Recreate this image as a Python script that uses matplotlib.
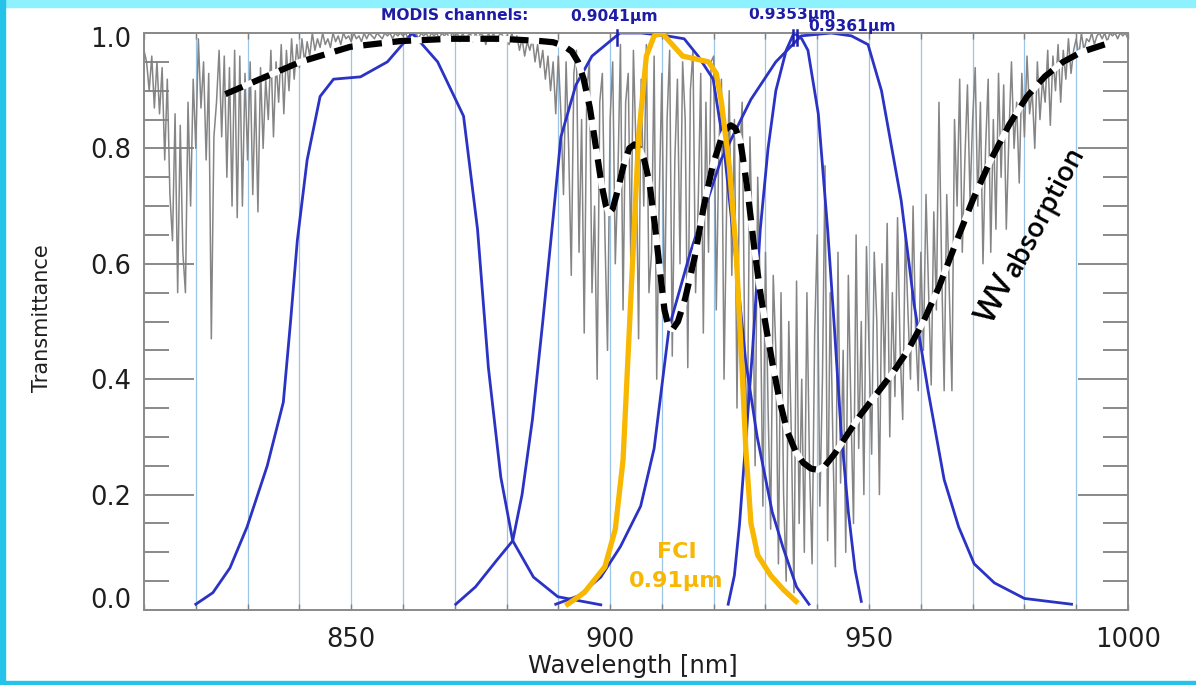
import numpy as np
import matplotlib
matplotlib.use("Agg")
import matplotlib.pyplot as plt
from matplotlib.ticker import MultipleLocator, FixedLocator
from matplotlib.patches import Rectangle

# ---------------- data ----------------
# gray high-resolution atmospheric transmittance, sampled every 0.5 nm from 810 nm
gray_start = 810.0
gray_step = 0.5
gray_T = [
    0.97, 0.95, 0.90, 0.96, 0.87, 0.95, 0.86, 0.94, 0.78, 0.92, 0.72, 0.64, 0.86, 0.55, 0.84, 0.62, 0.55, 0.88, 0.70, 0.92,
    0.80, 0.99, 0.87, 0.95, 0.78, 0.93, 0.47, 0.82, 0.88, 0.97, 0.82, 0.96, 0.75, 0.94, 0.70, 0.97, 0.68, 0.96, 0.70, 0.93,
    0.78, 0.95, 0.72, 0.90, 0.69, 0.94, 0.80, 0.92, 0.85, 0.97, 0.82, 0.95, 0.88, 0.98, 0.86, 0.97, 0.90, 0.99, 0.92, 0.98,
    0.94, 0.99, 0.95, 0.985, 0.96, 1.0, 0.97, 0.99, 0.975, 1.0, 0.98, 0.99, 0.975, 1.0, 0.985, 0.995, 0.98, 1.0, 0.99, 0.995,
    0.985, 1.0, 0.99, 0.995, 0.985, 1.0, 0.99, 1.0, 0.995, 0.99, 1.0, 0.995, 0.99, 1.0, 0.995, 1.0, 0.99, 1.0, 0.995, 1.0,
    0.995, 1.0, 0.99, 1.0, 0.995, 1.0, 0.99, 1.0, 0.995, 1.0, 0.99, 1.0, 0.995, 1.0, 0.99, 1.0, 0.995, 1.0, 0.99, 1.0,
    0.995, 1.0, 0.985, 1.0, 0.99, 0.995, 1.0, 0.985, 1.0, 0.99, 1.0, 0.995, 0.98, 1.0, 0.99, 1.0, 0.985, 0.995, 1.0, 0.99,
    0.995, 0.98, 1.0, 0.985, 0.995, 0.97, 0.99, 0.96, 0.985, 0.97, 0.99, 0.95, 0.98, 0.94, 0.97, 0.92, 0.96, 0.90, 0.95, 0.86,
    0.96, 0.86, 0.72, 0.95, 0.80, 0.58, 0.93, 0.97, 0.62, 0.85, 0.48, 0.90, 0.95, 0.55, 0.70, 0.40, 0.88, 0.93, 0.65, 0.45,
    0.85, 0.95, 0.60, 0.75, 0.98, 0.52, 0.88, 0.93, 0.60, 0.97, 0.80, 0.47, 0.92, 0.70, 0.98, 0.55, 0.62, 0.96, 0.40, 0.72,
    0.93, 0.50, 0.85, 0.97, 0.44, 0.78, 0.92, 0.60, 0.95, 0.85, 0.42, 0.90, 0.97, 0.55, 0.70, 0.93, 0.48, 0.88, 0.62, 0.95,
    0.96, 0.52, 0.80, 0.92, 0.40, 0.70, 0.90, 0.58, 0.85, 0.35, 0.78, 0.88, 0.45, 0.30, 0.82, 0.62, 0.25, 0.75, 0.55, 0.18,
    0.62, 0.35, 0.14, 0.58, 0.45, 0.08, 0.55, 0.20, 0.05, 0.50, 0.30, 0.03, 0.57, 0.15, 0.40, 0.10, 0.55, 0.25, 0.08, 0.48,
    0.65, 0.18, 0.40, 0.77, 0.12, 0.55, 0.30, 0.075, 0.62, 0.22, 0.45, 0.10, 0.58, 0.35, 0.15, 0.65, 0.28, 0.50, 0.20, 0.63,
    0.45, 0.27, 0.62, 0.50, 0.20, 0.60, 0.40, 0.67, 0.30, 0.55, 0.37, 0.68, 0.45, 0.33, 0.65, 0.52, 0.40, 0.70, 0.48, 0.38,
    0.62, 0.45, 0.72, 0.55, 0.39, 0.69, 0.52, 0.88, 0.60, 0.38, 0.72, 0.55, 0.38, 0.85, 0.70, 0.92, 0.62, 0.78, 0.91, 0.71,
    0.85, 0.94, 0.70, 0.88, 0.60, 0.80, 0.92, 0.62, 0.85, 0.66, 0.93, 0.75, 0.91, 0.66, 0.82, 0.95, 0.80, 0.88, 0.74, 0.93,
    0.82, 0.96, 0.86, 0.90, 0.80, 0.95, 0.85, 0.92, 0.88, 0.97, 0.84, 0.96, 0.90, 0.98, 0.88, 0.97, 0.92, 0.99, 0.93, 0.97,
    0.99, 0.96, 1.0, 0.97, 0.99, 0.985, 1.0, 0.98, 0.995, 1.0, 0.99, 1.0, 0.985, 1.0, 0.995, 1.0, 0.99, 1.0, 0.995, 1.0, 0.99,
]

# MODIS spectral response functions (blue)
modis_a_wl = [820, 823.3, 826.6, 829.9, 833.8, 836.9, 838.3, 839.6, 841.5, 844, 846.6, 851.8, 857, 861.8,
              866.7, 871.7, 874.4, 876.5, 878.9, 881.2, 885.2, 889.9, 898.2]
modis_a_T = [0.01, 0.03, 0.073, 0.144, 0.25, 0.36, 0.5, 0.64, 0.78, 0.89, 0.92, 0.924, 0.95, 1.0,
             0.95, 0.856, 0.66, 0.42, 0.23, 0.12, 0.057, 0.023, 0.009]

modis_b_wl = [870.2, 874, 878, 881.2, 883, 885, 887, 889, 890.5, 893.4, 896.5, 901.9, 906, 911, 914.3,
              917, 919.9, 922, 924.1, 926.2, 928.4, 931.3, 933.4, 936, 938.4]
modis_b_T = [0.01, 0.04, 0.085, 0.12, 0.2, 0.33, 0.5, 0.68, 0.82, 0.91, 0.96, 1.0, 1.0, 0.995, 0.99,
             0.96, 0.92, 0.8, 0.62, 0.43, 0.3, 0.17, 0.108, 0.04, 0.01]

modis_c_wl = [922.8, 924, 925, 926, 927.5, 929, 930.5, 932, 934, 935.5, 937, 938.2, 940.2, 942,
              943.3, 944.6, 946, 947.3, 948.5]
modis_c_T = [0.01, 0.06, 0.15, 0.27, 0.45, 0.66, 0.8, 0.9, 0.97, 1.0, 0.99, 0.97, 0.86, 0.66,
             0.49, 0.31, 0.17, 0.07, 0.015]

modis_d_wl = [889.5, 894, 898.2, 902, 905.9, 908.5, 911.4, 915.5, 921.4, 927.2, 932, 936.9, 942.7,
              946.6, 949.8, 952.4, 956.2, 958.7, 961.4, 964.5, 967.3, 970.3, 974.2, 980, 989.1]
modis_d_T = [0.01, 0.025, 0.057, 0.11, 0.18, 0.28, 0.49, 0.62, 0.78, 0.885, 0.95, 0.995, 1.0,
             0.995, 0.98, 0.9, 0.71, 0.53, 0.38, 0.226, 0.144, 0.08, 0.047, 0.02, 0.01]

# MTG FCI 0.91 um channel (orange)
fci_wl = [891.8, 895, 899, 901, 902.5, 904, 905.5, 907, 908.5, 910, 912, 914, 916.5, 919, 920.5,
          921.5, 923, 924.3, 925.3, 926.2, 927.2, 928.5, 931, 933.5, 935.9]
fci_T = [0.01, 0.03, 0.075, 0.14, 0.26, 0.54, 0.82, 0.96, 0.995, 1.0, 0.98, 0.96, 0.955, 0.95, 0.93,
         0.88, 0.77, 0.625, 0.45, 0.28, 0.15, 0.095, 0.06, 0.035, 0.015]

# smoothed water-vapour absorption (dashed)
wv_wl = [825.7, 832.4, 840.2, 849.8, 859.5, 869.2, 878.9, 886.6, 889, 891, 892.6, 893.8, 894.9,
         896.1, 897.3, 898.4, 899.2, 899.8, 900.5, 901.4, 902.6, 903.7, 904.7, 905.6, 906.6,
         907.6, 908.6, 909.6, 910.5, 911.3, 912.1, 913.1, 914.5, 916.3, 918.1, 919.8, 921.4,
         922.4, 923.3, 924.2, 925.2, 926.5, 927.8, 929, 930.3, 931.5, 932.8, 934.2, 935.8,
         937.3, 938.8, 940.1, 941.5, 943.3, 945.5, 948.5, 951.5, 954.5, 957.5, 960.5, 963.5,
         966.5, 970, 973.5, 977, 980.5, 984, 987.5, 991, 996.8]
wv_T = [0.894, 0.92, 0.95, 0.976, 0.986, 0.99, 0.99, 0.986, 0.984, 0.978, 0.968, 0.95, 0.92,
        0.87, 0.8, 0.735, 0.7, 0.688, 0.695, 0.725, 0.77, 0.8, 0.807, 0.8, 0.78,
        0.74, 0.67, 0.59, 0.52, 0.49, 0.487, 0.5, 0.54, 0.61, 0.7, 0.77, 0.815,
        0.833, 0.84, 0.835, 0.81, 0.73, 0.63, 0.55, 0.48, 0.42, 0.36, 0.31, 0.275,
        0.255, 0.245, 0.243, 0.25, 0.27, 0.3, 0.34, 0.375, 0.41, 0.45, 0.5, 0.56,
        0.63, 0.71, 0.78, 0.84, 0.89, 0.925, 0.95, 0.967, 0.984]

grid_wl = [820, 830, 840, 850, 860, 870, 880, 890, 900, 910, 920, 930, 940, 950, 960, 970, 980, 990]
x_major = [850, 900, 950, 1000]
y_major = [0.0, 0.2, 0.4, 0.6, 0.8, 1.0]
channel_marks = [901.4, 935.3, 936.1]

# ---------------- figure ----------------
W, H = 1196, 685
fig = plt.figure(figsize=(W / 100, H / 100), dpi=100)
fig.patch.set_facecolor("white")

# cyan frame
fig.patches.append(Rectangle((0, 1 - 7 / H), 1, 7 / H, transform=fig.transFigure,
                             color="#8ef1ff", zorder=10))
fig.patches.append(Rectangle((0, 0), 5 / W, 1, transform=fig.transFigure,
                             color="#25c3ea", zorder=10))
fig.patches.append(Rectangle((0, 1 / H), 1, 3 / H, transform=fig.transFigure,
                             color="#25c3ea", zorder=10))

ax = fig.add_axes([144 / W, (H - 610) / H, (1128 - 144) / W, (610 - 33) / H])
ax.set_xlim(810, 1000)
ax.set_ylim(0, 1.0)

for v in grid_wl:
    ax.axvline(v, color="#9cc4e6", lw=0.9, zorder=0.5)

gray_wl = gray_start + gray_step * np.arange(len(gray_T))
ax.plot(gray_wl, gray_T, color="#858585", lw=1.1, zorder=1)

blue = "#2b33c4"
for wl, T in [(modis_a_wl, modis_a_T), (modis_b_wl, modis_b_T),
              (modis_c_wl, modis_c_T), (modis_d_wl, modis_d_T)]:
    ax.plot(wl, T, color=blue, lw=2.0, zorder=2, solid_joinstyle="round")

ax.plot(wv_wl, wv_T, color="white", lw=4.5, zorder=3, solid_capstyle="butt",
        solid_joinstyle="round")
ax.plot(wv_wl, wv_T, color="black", lw=4.5, zorder=3.1, dashes=(3.0, 1.7))

ax.plot(fci_wl, fci_T, color="#f8b700", lw=3.8, zorder=4, solid_joinstyle="round")

# channel marks at top
for m in channel_marks:
    ax.plot([m, m], [0.98, 1.005], color="#2020b0", lw=1.8, zorder=5, clip_on=False)

# axes styling
for s in ax.spines.values():
    s.set_color("#8a8a8a")
    s.set_linewidth(1.4)

ax.yaxis.set_major_locator(FixedLocator(y_major))
ax.yaxis.set_minor_locator(MultipleLocator(0.05))
ax.xaxis.set_major_locator(FixedLocator(x_major))
ax.xaxis.set_minor_locator(MultipleLocator(10))
ax.tick_params(axis="y", which="major", direction="in", length=36, width=1.3,
               color="#808080", right=True, labelsize=18.5, pad=9, labelcolor="#1e1e1e")
ax.tick_params(axis="y", which="minor", direction="in", length=18, width=1.3,
               color="#808080", right=True)
ax.tick_params(axis="x", which="both", direction="in", length=4, width=1.0,
               color="#808080", top=True, labelsize=18.5, pad=12, labelcolor="#1e1e1e")
# IDL-style: end labels sit just inside the axis range
ax.set_yticklabels(["" if v in (0.0, 1.0) else "%.1f" % v for v in y_major])
ytr = ax.get_yaxis_transform()
ax.text(-0.013, y_major[0] + 0.016, "%.1f" % y_major[0], transform=ytr, ha="right",
        va="center", fontsize=18.5, color="#1e1e1e")
ax.text(-0.013, y_major[-1] - 0.012, "%.1f" % y_major[-1], transform=ytr, ha="right",
        va="center", fontsize=18.5, color="#1e1e1e")

fig.text(633 / W, 1 - 666 / H, "Wavelength [nm]", ha="center", va="center",
         fontsize=17.5, color="#1e1e1e")
fig.text(42 / W, 1 - 318 / H, "Transmittance", rotation=90, ha="center", va="center",
         fontsize=15, color="#1e1e1e")

# annotations
navy = "#1c1ca6"
ann_font = "DejaVu Sans"
fig.text(381 / W, 1 - 16 / H, "MODIS channels:", ha="left", va="center", fontsize=11.2,
         fontweight="bold", color=navy, family=ann_font)
fig.text(570 / W, 1 - 16 / H, "0.9041µm", ha="left", va="center", fontsize=11.2,
         fontweight="bold", color=navy, family=ann_font)
fig.text(748 / W, 1 - 14 / H, "0.9353µm", ha="left", va="center", fontsize=11.2,
         fontweight="bold", color=navy, family=ann_font)
fig.text(808 / W, 1 - 27 / H, "0.9361µm", ha="left", va="center", fontsize=11.2,
         fontweight="bold", color=navy, family=ann_font)

fig.text(677 / W, 1 - 552 / H, "FCI", ha="center", va="center", fontsize=16,
         fontweight="bold", color="#f8b700", family=ann_font)
fig.text(676 / W, 1 - 581 / H, "0.91µm", ha="center", va="center", fontsize=16,
         fontweight="bold", color="#f8b700", family=ann_font)

wv_font = ["Open Sans", "DejaVu Sans"]
ax.text(974.6, 0.54, "WV", rotation=62, ha="center", va="center", fontsize=23,
        color="black", family=wv_font, fontweight="semibold", zorder=6,
        rotation_mode="anchor")
ax.text(984.0, 0.69, "absorption", rotation=62, ha="center", va="center", fontsize=19.5,
        color="black", family=wv_font, fontweight="semibold", zorder=6,
        rotation_mode="anchor")

fig.savefig("out.png", dpi=100, facecolor="white")
